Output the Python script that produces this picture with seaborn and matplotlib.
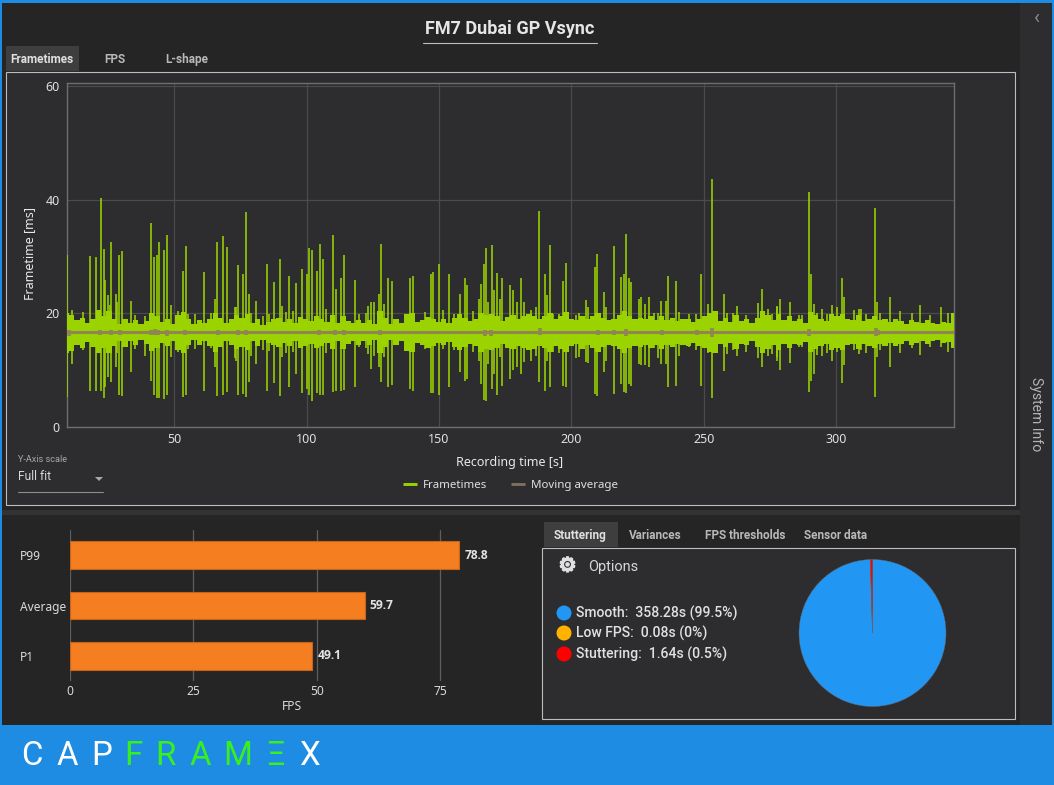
import numpy as np
import pandas as pd
import matplotlib
matplotlib.use("Agg")
import matplotlib.pyplot as plt
import matplotlib.patheffects as pe
from matplotlib.patches import Rectangle, Circle, Polygon
from matplotlib.lines import Line2D
import seaborn as sns

# ---------- data ----------
spike_t = [9.5,18.1,20.3,22.3,23.2,23.8,24.9,26.1,28.0,29.1,30.2,33.6,41.2,42.2,43.3,44.2,46.1,47.2,48.6,53.1,54.2,61.2,65.2,66.1,68.2,69.7,73.1,74.1,76.0,77.0,78.1,80.8,84.9,87.6,90.0,90.8,93.1,96.1,98.1,100.0,100.9,102.0,103.9,104.9,106.1,110.1,111.0,113.1,114.0,118.1,123.0,124.2,125.3,127.2,128.0,129.1,130.6,132.1,
138.9,140.0,146.9,147.8,150.0,153.8,157.9,159.9,160.7,165.0,165.8,167.0,167.8,170.0,170.8,171.9,173.0,173.9,176.9,177.9,179.6,180.9,182.0,187.8,190.0,190.9,192.0,196.9,197.8,205.4,208.8,209.6,212.3,216.2,218.6,219.7,220.8,221.7,222.7,226.3,227.9,229.4,233.8,236.7,239.7,248.8,251.6,253.2,257.6,262.6,270.6,272.2,274.2,277.7,278.7,282.6,289.8,290.6,291.7,298.6,302.4,302.9,308.7,314.8,315.6,320.6,324.2,331.6,339.8,342.3]
spike_hi = [30.2,30.0,29.8,40.2,31.3,25.8,23.1,32.6,23.4,30.3,30.9,22.2,35.8,29.8,30.3,32.5,31.1,33.8,21.5,27.5,31.8,27.2,22.5,32.6,33.5,31.6,21.0,28.4,26.8,37.9,23.4,22.1,28.7,25.4,29.5,21.2,26.6,25.3,27.8,26.8,31.5,31.2,27.5,32.1,29.5,33.7,24.3,26.2,30.3,25.8,21.3,21.9,21.9,23.4,32.2,21.6,26.2,25.6,
26.1,26.6,26.8,27.3,28.7,26.8,23.4,26.1,24.9,22.5,25.2,28.6,31.4,32.0,24.0,27.0,22.5,26.1,25.0,24.0,22.0,26.1,22.0,38.0,26.8,23.1,32.0,25.6,28.9,22.3,28.1,30.4,23.7,31.8,26.3,26.9,33.9,26.1,25.4,22.8,21.6,22.8,22.2,26.5,25.6,26.8,21.6,43.6,23.4,21.2,21.8,24.2,20.8,21.3,22.5,22.0,41.3,26.8,21.6,21.5,26.2,22.8,20.8,38.6,22.0,22.9,20.3,21.5,21.0,20.0]
spike_lo = [5.2,6.3,6.3,6.3,5.0,7.0,8.7,7.8,10.5,5.6,5.3,9.6,8.1,5.6,5.0,5.0,4.8,5.6,12.2,5.2,5.5,6.3,10.5,5.3,5.6,6.0,11.6,5.6,5.8,5.2,7.8,11.0,6.3,7.6,5.3,12.2,6.9,9.3,5.9,6.6,5.5,4.5,5.9,5.6,5.5,6.0,6.3,6.3,6.5,7.0,12.8,10.2,12.5,10.5,7.8,12.2,6.9,7.3,
6.6,6.3,5.9,5.9,5.6,6.9,9.6,8.1,8.4,11.6,7.5,4.6,4.5,6.6,9.3,5.5,12.2,7.2,8.4,9.9,10.5,9.3,11.3,7.8,6.2,11.6,6.9,7.2,6.9,11.3,5.8,5.4,9.6,5.8,7.5,6.1,5.9,7.5,7.2,10.8,10.8,10.5,11.0,6.9,7.2,7.1,12.9,5.0,9.8,12.4,12.0,10.5,12.5,12.2,10.0,11.2,6.0,8.1,9.3,11.5,7.6,10.8,12.8,5.2,12.2,10.5,13.0,12.6,14.0,13.1]

minor_t = [11.1,15.5,25.6,28.1,35,38.8,40.6,51.3,55.1,57.6,63.9,72.7,79,83.4,85.9,92.2,94.7,107.3,119.9,122.5,144.5,151.4,155.8,162.8,168.4,184.8,186.7,193,195.5,201.8,203,206.2,213.1,225.7,231.3,232.8,235.7,240.7,244.5,247,259,260.9,265.9,276,277.8,286,287.3,292.9,294.8,296.7,300.5,306.8,309.3,311.2,316.8,328.8,335.7]
minor_hi = [20.5,20.2,21.5,22,19.6,19.5,20,20.4,19.9,19.8,20,21,20,19.5,19.9,20.2,20.3,20.8,19.9,20,20.2,20.6,19.9,20.4,22,20.5,21,19.9,19.8,19.6,20,21,21,22.5,20,20,22.2,20.2,19.9,19.9,20,20,19.7,19.9,21.1,19.6,19.7,20,20.8,19.9,21,20.5,20.8,19.9,20,20,19.6]
minor_lo = [11,13.5,12.9,13,13.6,12.5,13.5,13.2,13.7,13.7,13.8,12,12.5,13.5,13.3,13,13.1,13,14,13.9,13.7,13.7,13.5,13.2,11,11.5,12.5,13.2,13,12.1,12.2,11.2,11.5,11,13.8,12,11,12.5,14,13.5,12.8,13.5,13.2,12.8,11.5,14,14,12.6,12.4,13,13.2,13.5,13.5,13,13.5,13.9,14.1]

band_hi = [20.0,19.6,18.8,19.2,18.2,19.0,20.5,19.5,20.3,19.0,18.0,19.0,18.3,18.8,18.0,18.6,20.0,19.5,18.5,19.0,
18.0,19.7,20.2,18.9,18.0,18.8,18.2,19.0,20.0,19.2,18.3,18.9,19.6,19.2,19.8,18.2,19.0,17.9,18.4,18.9,
19.1,18.4,19.0,18.2,19.3,19.0,18.6,19.4,19.0,18.4,19.6,18.2,19.5,18.6,18.2,18.8,18.2,18.8,18.0,20.3,
19.2,18.0,18.9,18.2,19.9,20.0,18.4,18.8,19.3,19.0,18.4,18.9,18.3,19.1,19.8,19.2,18.6,19.0,20.0,19.6,
19.8,19.4,18.6,19.3,19.6,19.0,19.4,19.8,19.5,19.0,19.4,20.0,19.0,19.5,20.2,19.0,18.7,19.5,18.9,19.4,
20.0,19.2,18.8,19.0,19.6,20.3,19.4,19.0,19.2,18.9,19.4,18.8,19.5,18.8,19.2,18.6,18.9,19.0,18.5,19.0,
19.4,20.0,20.4,18.6,19.2,18.4,19.6,18.6,18.9,18.2,19.2,20.3,19.6,18.8,19.8,18.7,19.4,18.6,18.9,18.3,
20.2,19.6,19.0,18.6,19.8,19.4,19.8,18.9,18.7,19.6,18.6,19.0,19.4,18.7,19.0,18.4,19.0,18.6,18.1,18.8,
18.4,18.2,18.7,18.2,18.0,18.5,18.3,20.0]
band_lo = [13.0,13.3,14.3,13.9,14.9,14.1,12.9,13.8,13.0,14.2,15.1,14.0,15.0,14.4,15.2,14.5,13.3,13.8,14.7,14.2,
15.1,13.5,13.0,14.3,15.2,14.4,15.0,14.2,13.2,14.0,15.0,14.3,13.6,14.0,13.4,15.0,14.2,15.3,14.8,14.3,
14.1,14.8,14.2,15.0,13.9,14.2,14.6,13.8,14.2,14.8,13.6,15.0,13.7,14.6,15.0,14.4,15.0,14.4,15.2,13.0,
14.0,15.2,14.3,15.0,13.3,13.2,14.8,14.4,13.9,14.2,14.8,14.3,14.9,14.1,13.4,14.0,14.6,14.2,13.2,13.6,
13.4,13.8,14.6,13.9,13.6,14.2,13.8,13.4,13.7,14.2,13.8,13.2,14.2,13.7,13.1,14.2,14.5,13.7,14.3,13.8,
13.2,14.0,14.4,14.2,13.6,13.0,13.8,14.2,14.0,14.3,13.8,14.4,13.7,14.4,14.0,14.6,14.3,14.2,14.7,14.2,
13.8,13.2,12.9,14.6,14.0,14.8,13.6,14.6,14.3,15.0,14.0,13.0,13.6,14.4,13.4,14.5,13.8,14.6,14.3,14.9,
13.1,13.6,14.2,14.6,13.4,13.8,13.4,14.3,14.5,13.6,14.6,14.2,13.8,14.5,14.2,14.8,14.2,14.6,15.1,14.4,
14.8,15.0,14.5,15.0,15.2,14.7,14.9,13.8]

avg_level_t = [9.2, 344.6]
avg_level = [16.6, 16.6]
bump_t = [10,21.8,26,29.3,41.3,42.5,43.8,47,53.9,66.4,74,77,104.8,110.5,114.2,127.5,167.2,169.7,188,210,216,220.6,234.4,247.6,253.3,289.8,315,316]
bump_lo = [16.0,16.2,16.2,16.2,16.1,16.1,16.1,16.0,16.2,16.1,16.2,16.1,16.2,16.2,16.1,16.2,15.9,16.0,16.2,16.2,16.1,16.0,16.2,16.2,15.8,15.9,16.0,16.1]
bump_hi = [17.1,17.1,17.0,17.0,17.1,17.2,17.1,17.1,17.0,17.1,17.0,17.1,17.0,17.0,17.1,17.0,17.1,17.1,17.4,17.0,17.1,17.2,17.0,17.0,17.4,17.2,17.3,17.0]

bar_names = ["P99", "Average", "P1"]
bar_values = [78.8, 59.7, 49.1]
bar_ticks = [0, 25, 50, 75]

pie_names = ["Smooth", "Low FPS", "Stuttering"]
pie_seconds = [358.28, 0.08, 1.64]
pie_pct = ["99.5%", "0%", "0.5%"]
pie_colors = ["#2196F3", "#FFB300", "#FF0000"]

# ---------- styling ----------
sns.set_theme(style="dark")
UI = ["Roboto", "DejaVu Sans"]
CH = ["Noto Sans", "DejaVu Sans"]
plt.rcParams["font.family"] = UI
W, H = 1054, 785
BLUE, DARK, PANEL = "#1E8CE3", "#252525", "#2D2D30"
GREEN, AVG = "#9BD300", "#908555"
fs = lambda px: px * 72 / 100

fig = plt.figure(figsize=(W / 100, H / 100), dpi=100, facecolor=DARK)
def axes_px(x0, y0, x1, y1, **kw):
    return fig.add_axes([x0 / W, 1 - y1 / H, (x1 - x0) / W, (y1 - y0) / H], **kw)

ui = axes_px(0, 0, W, H)
ui.set_xlim(0, W); ui.set_ylim(H, 0); ui.axis("off")
def box(x0, y0, x1, y1, fc="none", ec="none", lw=0, z=1):
    ui.add_patch(Rectangle((x0, y0), x1 - x0, y1 - y0, fc=fc, ec=ec, lw=lw, zorder=z))
def label(x, y, s, px=12, c="#D8D8D8", ha="left", **kw):
    ui.text(x, y, s, fontsize=fs(px), color=c, ha=ha, va="center", zorder=6, **kw)

box(0, 0, W, 3, BLUE); box(0, 0, 2, H, BLUE); box(1052, 0, W, H, BLUE); box(0, 725, W, H, BLUE, z=2)
box(1020, 3, 1052, 725, PANEL)
box(2, 510, 1020, 515, "#333333")
box(5.5, 71.5, 1015, 505, PANEL, "#BDBDBD", 0.8)
box(541.5, 547.5, 1015, 719, PANEL, "#BDBDBD", 0.8)

# title and tabs
label(510, 29, "FM7 Dubai GP Vsync", 18, "#E6E6E6", "center", fontweight="bold")
ui.plot([423, 597], [43, 43], color="#BDBDBD", lw=0.8, zorder=3)
box(6, 46, 79, 71, "#3E3E3E")
label(10.5, 59.5, "Frametimes", 11.7, "#E0E0E0", fontweight="bold")
label(104, 59.5, "FPS", 11.7, "#B8B8B8", fontweight="bold")
label(165.5, 59.5, "L-shape", 11.7, "#B8B8B8", fontweight="bold")
box(544, 522, 618, 547, "#3E3E3E")
label(554, 535.5, "Stuttering", 11.7, "#E0E0E0", fontweight="bold")
label(629, 535.5, "Variances", 11.7, "#B8B8B8", fontweight="bold")
label(705, 535.5, "FPS thresholds", 11.7, "#B8B8B8", fontweight="bold")
label(803.5, 535.5, "Sensor data", 11.7, "#B8B8B8", fontweight="bold")
label(1037, 18, "\u2039", 20, "#8A8A8A", "center")
ui.text(1036, 414, "System Info", fontsize=fs(14), color="#B4B4B4", rotation=-90, ha="center", va="center", zorder=6)

# frametimes
ax = axes_px(66.5, 82.5, 954, 426.5)
ax.set_facecolor("none")
all_t = spike_t + minor_t
all_hi = spike_hi + minor_hi
all_lo = spike_lo + minor_lo
spikes = pd.DataFrame({
    "time": np.repeat(all_t, 2),
    "value": np.column_stack([all_lo, all_hi]).ravel(),
    "spike": np.repeat(np.arange(len(all_t)), 2),
})
band_t = np.linspace(9.2, 344.6, len(band_hi))
ax.fill_between(band_t, band_lo, band_hi, step="mid", color=GREEN, lw=0, zorder=3)
sns.lineplot(data=spikes, x="time", y="value", units="spike", estimator=None,
             color=GREEN, lw=1.15, ax=ax, legend=False, zorder=3, solid_capstyle="butt")
sns.lineplot(x=avg_level_t, y=avg_level, color=AVG, lw=2.2, estimator=None, ax=ax, legend=False, zorder=4)
bumps = pd.DataFrame({
    "time": np.repeat(bump_t, 2),
    "value": np.column_stack([bump_lo, bump_hi]).ravel(),
    "bump": np.repeat(np.arange(len(bump_t)), 2),
})
sns.lineplot(data=bumps, x="time", y="value", units="bump", estimator=None,
             color=AVG, lw=2.6, ax=ax, legend=False, zorder=4, solid_capstyle="butt")
ax.set_xlim(9.2, 344.6); ax.set_ylim(0, 60.65)
ax.set_xticks([50, 100, 150, 200, 250, 300]); ax.set_yticks([0, 20, 40, 60])
ax.grid(True, color="#4B4B4D", lw=0.9); ax.set_axisbelow(True)
for s in ax.spines.values():
    s.set_color("#6E6E6E"); s.set_linewidth(1.0); s.set_visible(True)
ax.tick_params(colors="#E0E0E0", labelsize=fs(12.5), length=0, pad=5)
for t in ax.get_xticklabels() + ax.get_yticklabels():
    t.set_family(CH)
ax.set_xlabel(""); ax.set_ylabel("")
ui.text(30, 254, "Frametime [ms]", fontsize=fs(12.5), color="#E8E8E8", rotation=90, ha="center", va="center", family=CH, zorder=6)
ui.text(510, 462.5, "Recording time [s]", fontsize=fs(12.5), color="#E8E8E8", ha="center", va="center", family=CH, zorder=6)
leg = ax.legend(handles=[Line2D([], [], color=GREEN, lw=2.1, solid_capstyle="butt"),
                         Line2D([], [], color="#7D6E5E", lw=2.1, solid_capstyle="butt")],
                labels=["Frametimes", "Moving average"], ncol=2, frameon=False,
                loc="center", bbox_to_anchor=(510.5 / W, 1 - 485 / H), bbox_transform=fig.transFigure,
                labelcolor="#E0E0E0", handlelength=1.22, handletextpad=0.52, columnspacing=2.0,
                prop={"family": CH, "size": fs(11.5)})

# y-axis scale control
label(18, 459, "Y-Axis scale", 9.2, "#A8A8A8")
label(18, 477, "Full fit", 12, "#D8D8D8")
ui.add_patch(Polygon([[95, 477], [103, 477], [99, 481]], fc="#A8A8A8", ec="none", zorder=6))
ui.plot([18, 103], [491.5, 491.5], color="#8C8C8C", lw=0.8, zorder=6)

# bars
bx = axes_px(69.6, 530, 540, 681)
bx.set_facecolor("none")
bars = pd.DataFrame({"name": bar_names, "fps": bar_values})
sns.barplot(data=bars, x="fps", y="name", orient="h", color="#F47E20", saturation=1,
            width=0.556, edgecolor="#C9641C", linewidth=0.8, ax=bx)
bx.set_xlim(0, (540 - 69.6) / 4.945); bx.set_ylim(2.5, -0.5)
bx.set_xticks(bar_ticks)
bx.grid(True, axis="x", color="#5E5E5E", lw=0.9); bx.grid(False, axis="y"); bx.set_axisbelow(True)
for s in bx.spines.values():
    s.set_visible(False)
bx.set_xlabel(""); bx.set_ylabel("")
bx.tick_params(axis="both", colors="#DADADA", labelsize=fs(12), length=0)
bx.tick_params(axis="x", pad=3)
bx.tick_params(axis="y", pad=36)
for t in bx.get_xticklabels() + bx.get_yticklabels():
    t.set_family(CH)
for t in bx.get_yticklabels():
    t.set_ha("left")
for i, v in enumerate(bar_values):
    bx.annotate(f"{v}", (v, i), xytext=(3.6, 0), textcoords="offset points", va="center",
                fontsize=fs(12), fontweight="bold", color="#E4E4E4", family="Open Sans")
ui.text(292, 706, "FPS", fontsize=fs(12), color="#DADADA", ha="center", va="center", family=CH, zorder=6)

# pie
px_ax = axes_px(872.5 - 73.5, 633 - 73.5, 872.5 + 73.5, 633 + 73.5)
px_ax.pie(pie_seconds, colors=pie_colors, startangle=90, counterclock=False, radius=1.0,
          wedgeprops={"linewidth": 0.3, "edgecolor": "#666666"})
px_ax.set_xlim(-1, 1); px_ax.set_ylim(-1, 1)

# pie legend and options
ui.text(567.5, 566, "\u2699", fontsize=fs(20), color="#E0E0E0", ha="center", va="center", family="DejaVu Sans", zorder=6,
        path_effects=[pe.withStroke(linewidth=1.2, foreground="#E0E0E0")])
label(588.5, 566.5, "Options", 14.5, "#D8D8D8")
for i, (n, s, p, c) in enumerate(zip(pie_names, pie_seconds, pie_pct, pie_colors)):
    y = [613, 633, 654][i]
    ui.add_patch(Circle((564, y), 7.5, fc=c, ec="none", zorder=6))
    label(575.5, y, f"{n}:  {s}s ({p})", 14, "#E0E0E0", fontweight="medium")

# brand
letters = list("CAPFRAM\u039eX")
letter_x = [32, 67, 102, 133, 165, 200, 238, 276, 309]
letter_c = ["#FFFFFF"] * 3 + ["#38F01E"] * 5 + ["#FFFFFF"]
for ch, x, c in zip(letters, letter_x, letter_c):
    ui.text(x, 756, ch, fontsize=fs(33), color=c, ha="center", va="center", fontweight="normal", family=UI, zorder=6)

fig.savefig("out.png", dpi=100, facecolor=fig.get_facecolor())
